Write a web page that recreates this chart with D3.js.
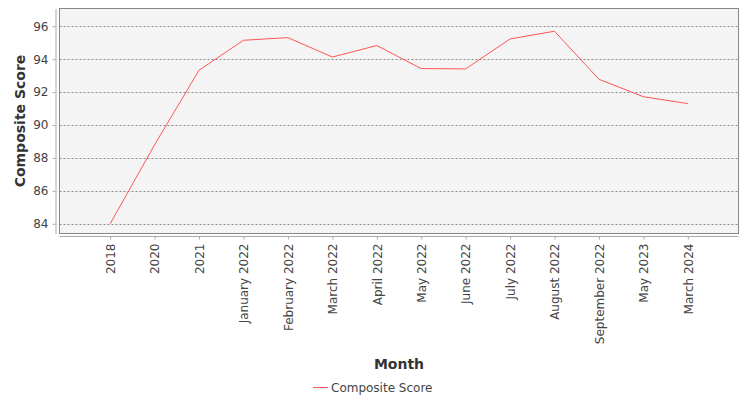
<!DOCTYPE html>
<html>
<head>
<meta charset="utf-8">
<script src="https://cdn.jsdelivr.net/npm/d3@7"></script>
<style>
  body { margin: 0; background: #fff; }
  text { font-family: "DejaVu Sans", sans-serif; }
</style>
</head>
<body>
<div id="chart-area"></div>
<script>
// data
var months = ["2018", "2020", "2021", "January 2022", "February 2022", "March 2022",
              "April 2022", "May 2022", "June 2022", "July 2022", "August 2022",
              "September 2022", "May 2023", "March 2024"];
var scores = [84.0, 88.8, 93.33, 95.15, 95.31, 94.13, 94.83, 93.43, 93.41, 95.23, 95.7, 92.78, 91.72, 91.3];
var yTicks = [84, 86, 88, 90, 92, 94, 96];

var width = 750, height = 400;
var plot = {left: 59.5, top: 8.5, right: 738.5, bottom: 233.5};

var svg = d3.select("#chart-area").append("svg")
    .attr("width", width).attr("height", height);

var x = d3.scalePoint().domain(months).range([plot.left, plot.right]).padding(1.14);
var y = d3.scaleLinear().domain([83.41, 97.08]).range([plot.bottom, plot.top]);

// plot background
svg.append("rect")
    .attr("x", plot.left).attr("y", plot.top)
    .attr("width", plot.right - plot.left).attr("height", plot.bottom - plot.top)
    .attr("fill", "#f4f4f4");

// grid lines
svg.append("g").selectAll("line").data(yTicks).enter().append("line")
    .attr("x1", plot.left).attr("x2", plot.right)
    .attr("y1", function(d) { return Math.round(y(d)) + 0.5; })
    .attr("y2", function(d) { return Math.round(y(d)) + 0.5; })
    .attr("stroke", "#888").attr("stroke-width", 1).attr("stroke-dasharray", "2,2");

// plot border
svg.append("rect")
    .attr("x", plot.left).attr("y", plot.top)
    .attr("width", plot.right - plot.left).attr("height", plot.bottom - plot.top)
    .attr("fill", "none").attr("stroke", "#888").attr("stroke-width", 1);

// y axis
var yAxis = svg.append("g").attr("transform", "translate(55.5,0)")
    .call(d3.axisLeft(y).tickValues(yTicks).tickSize(3).tickPadding(4).tickSizeOuter(0));
yAxis.select(".domain").attr("stroke", "#aaa");
yAxis.selectAll(".tick line").attr("stroke", "#aaa");
yAxis.selectAll("text").attr("font-size", "12px").attr("fill", "#444")
    .style("font-family", "DejaVu Sans");

// x axis
var xAxis = svg.append("g").attr("transform", "translate(0,236.5)")
    .call(d3.axisBottom(x).tickSize(3).tickSizeOuter(0));
xAxis.select(".domain").attr("stroke", "#aaa").attr("d", "M" + plot.left + ",0H" + plot.right);
xAxis.selectAll(".tick line").attr("stroke", "#aaa");
xAxis.selectAll("text").attr("font-size", "12px").attr("fill", "#444")
    .style("font-family", "DejaVu Sans")
    .attr("text-anchor", "end").attr("transform", "rotate(-90)")
    .attr("x", -7).attr("y", 0).attr("dy", "0.36em");

// line
var line = d3.line()
    .x(function(d, i) { return x(months[i]); })
    .y(function(d) { return y(d); });

svg.append("path").datum(scores)
    .attr("d", line)
    .attr("fill", "none").attr("stroke", "#ff5555").attr("stroke-width", 1);

// axis labels
svg.append("text")
    .attr("transform", "translate(25," + ((plot.top + plot.bottom) / 2) + ") rotate(-90)")
    .attr("text-anchor", "middle")
    .attr("font-size", "14px").attr("font-weight", "bold").attr("fill", "#333")
    .text("Composite Score");

svg.append("text")
    .attr("x", (plot.left + plot.right) / 2).attr("y", 369)
    .attr("text-anchor", "middle")
    .attr("font-size", "14px").attr("font-weight", "bold").attr("fill", "#333")
    .text("Month");

// legend
var legend = svg.append("g").attr("transform", "translate(313,387.5)");
legend.append("line").attr("x1", 0).attr("x2", 15).attr("y1", 0).attr("y2", 0)
    .attr("stroke", "#ff5555").attr("stroke-width", 1);
legend.append("text").attr("x", 18).attr("y", 0).attr("dy", "0.35em")
    .attr("font-size", "12px").attr("fill", "#444")
    .text("Composite Score");
</script>
</body>
</html>
